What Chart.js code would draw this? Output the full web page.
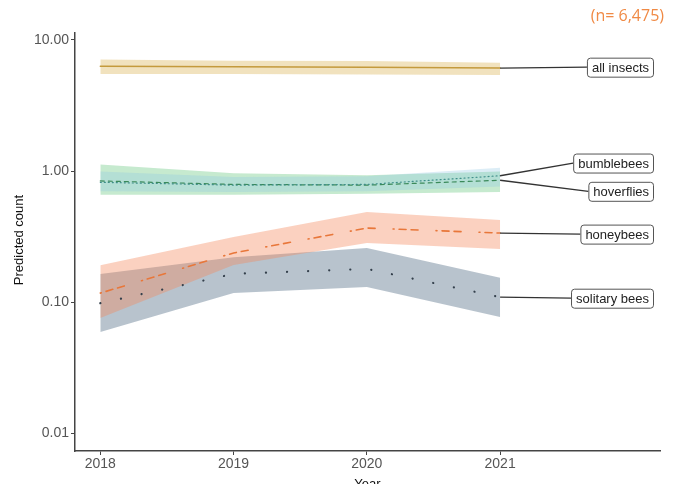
<!DOCTYPE html>
<html>
<head>
<meta charset="utf-8">
<script src="https://cdn.jsdelivr.net/npm/chart.js@4"></script>
<style>
  html, body { margin: 0; padding: 0; background: #fff; }
  #wrap { width: 679px; height: 484px; position: relative; }
</style>
</head>
<body>
<div id="wrap"><canvas id="chart" width="679" height="484"></canvas></div>
<script>
// años y valores
const years = [2018, 2019, 2020, 2021];

const allInsects = [6.3, 6.25, 6.2, 6.1];
const allInsectsLo = [5.5, 5.5, 5.45, 5.4];
const allInsectsHi = [7.1, 6.95, 6.9, 6.7];

const bumblebees = [0.82, 0.78, 0.79, 0.92];
const bumblebeesLo = [0.70, 0.69, 0.70, 0.76];
const bumblebeesHi = [0.99, 0.90, 0.91, 1.06];

const hoverflies = [0.84, 0.79, 0.78, 0.85];
const hoverfliesLo = [0.66, 0.66, 0.67, 0.69];
const hoverfliesHi = [1.12, 0.96, 0.93, 0.99];

const honeybees = [0.117, 0.237, 0.367, 0.336];
const honeybeesLo = [0.0755, 0.192, 0.282, 0.254];
const honeybeesHi = [0.191, 0.313, 0.486, 0.423];

const solitaryBees = [0.098, 0.164, 0.179, 0.109];
const solitaryBeesLo = [0.059, 0.117, 0.130, 0.077];
const solitaryBeesHi = [0.164, 0.22, 0.258, 0.153];

const yTicks = [0.01, 0.1, 1, 10];
const seriesNames = ['all insects', 'bumblebees', 'hoverflies', 'honeybees', 'solitary bees'];
const labelValues = [6.2, 1.15, 0.70, 0.33, 0.107];

const toPoints = arr => arr.map((v, i) => ({ x: years[i], y: v }));

// banda = límite inferior + límite superior rellenado hasta el anterior
function band(lo, hi, color, order) {
  return [
    { data: toPoints(lo), borderWidth: 0, pointRadius: 0, fill: false, order: order },
    { data: toPoints(hi), borderWidth: 0, pointRadius: 0, fill: '-1', backgroundColor: color, order: order }
  ];
}

function line(values, color, dash, width, name) {
  return {
    label: name,
    data: toPoints(values),
    borderColor: color,
    borderWidth: width,
    borderDash: dash,
    borderCapStyle: 'round',
    pointRadius: 0,
    fill: false,
    tension: 0,
    order: 0
  };
}

const lineData = [allInsects, bumblebees, hoverflies, honeybees, solitaryBees];

const datasets = [
  line(allInsects, '#c49a3c', [], 1.5, 'all insects'),
  line(bumblebees, '#3f8f8a', [1, 3], 1.2, 'bumblebees'),
  line(hoverflies, '#3b8a5a', [4, 4], 1.2, 'hoverflies'),
  line(honeybees, '#e8773a', [1, 5, 7, 5, 7, 18], 1.6, 'honeybees'),
  line(solitaryBees, '#34404c', [0.1, 21], 2.2, 'solitary bees'),
  ...band(allInsectsLo, allInsectsHi, 'rgba(222,186,100,0.42)', 1),
  ...band(bumblebeesLo, bumblebeesHi, 'rgba(140,195,225,0.30)', 2),
  ...band(hoverfliesLo, hoverfliesHi, 'rgba(120,205,140,0.42)', 3),
  ...band(honeybeesLo, honeybeesHi, 'rgba(245,135,90,0.38)', 4),
  ...band(solitaryBeesLo, solitaryBeesHi, 'rgba(105,128,148,0.47)', 5)
];

// etiquetas con caja, líneas de unión, títulos y (n=...)
const annotations = {
  id: 'annotations',
  afterDatasetsDraw(chart) {
    const { ctx, chartArea, scales } = chart;
    const x = scales.x, y = scales.y;
    ctx.save();
    ctx.font = '13px "Liberation Sans", Arial, sans-serif';
    ctx.textBaseline = 'middle';
    const right = chartArea.right - 7;
    seriesNames.forEach((name, i) => {
      const w = ctx.measureText(name).width + 9;
      const h = 19;
      const cy = y.getPixelForValue(labelValues[i]);
      const left = right - w;
      const vals = lineData[i];
      const sx = x.getPixelForValue(years[years.length - 1]);
      const sy = y.getPixelForValue(vals[vals.length - 1]);
      ctx.strokeStyle = '#333';
      ctx.lineWidth = 1.3;
      ctx.beginPath();
      ctx.moveTo(sx, sy);
      ctx.lineTo(left, cy);
      ctx.stroke();
      ctx.fillStyle = '#fff';
      ctx.strokeStyle = '#555';
      ctx.lineWidth = 1;
      ctx.beginPath();
      ctx.roundRect(left + 0.5, cy - h / 2 + 0.5, w, h, 3);
      ctx.fill();
      ctx.stroke();
      ctx.fillStyle = '#222';
      ctx.textAlign = 'left';
      ctx.fillText(name, left + 5, cy + 1);
    });

    // títulos de ejes
    ctx.fillStyle = '#111';
    ctx.font = '13px "Liberation Sans", Arial, sans-serif';
    ctx.textAlign = 'center';
    ctx.fillText('Year', (chartArea.left + chartArea.right) / 2, 484);
    ctx.save();
    ctx.translate(19, 240);
    ctx.rotate(-Math.PI / 2);
    ctx.fillText('Predicted count', 0, 0);
    ctx.restore();

    ctx.fillStyle = '#f08a45';
    ctx.font = '16px "Open Sans", sans-serif';
    ctx.textAlign = 'right';
    ctx.fillText('(n= 6,475)', 664, 16);
    ctx.restore();
  }
};

new Chart(document.getElementById('chart').getContext('2d'), {
  type: 'line',
  data: { datasets: datasets },
  options: {
    responsive: false,
    animation: false,
    events: [],
    layout: { padding: { left: 0, right: 19, top: 33, bottom: 0 } },
    plugins: {
      legend: { display: false },
      tooltip: { enabled: false }
    },
    scales: {
      x: {
        type: 'linear',
        min: 2017.81,
        max: 2022.2,
        afterBuildTicks: s => { s.ticks = years.map(v => ({ value: v })); },
        afterFit: s => { s.height = 33; },
        grid: { display: true, drawOnChartArea: false, tickLength: 4, color: '#444', tickWidth: 1 },
        border: { color: '#444', width: 1.5 },
        ticks: {
          color: '#555',
          padding: 1,
          maxRotation: 0,
          font: { size: 14, family: '"Liberation Sans", Arial, sans-serif' },
          callback: v => String(v)
        }
      },
      y: {
        type: 'logarithmic',
        min: 0.0073,
        max: 11.3,
        afterBuildTicks: s => { s.ticks = yTicks.map(v => ({ value: v })); },
        afterFit: s => { s.width = 75; },
        grid: { display: true, drawOnChartArea: false, tickLength: 4, color: '#444', tickWidth: 1 },
        border: { color: '#444', width: 1.5 },
        ticks: {
          color: '#555',
          padding: 2,
          font: { size: 14, family: '"Liberation Sans", Arial, sans-serif' },
          callback: v => Number(v).toFixed(2)
        }
      }
    }
  },
  plugins: [annotations]
});
</script>
</body>
</html>
